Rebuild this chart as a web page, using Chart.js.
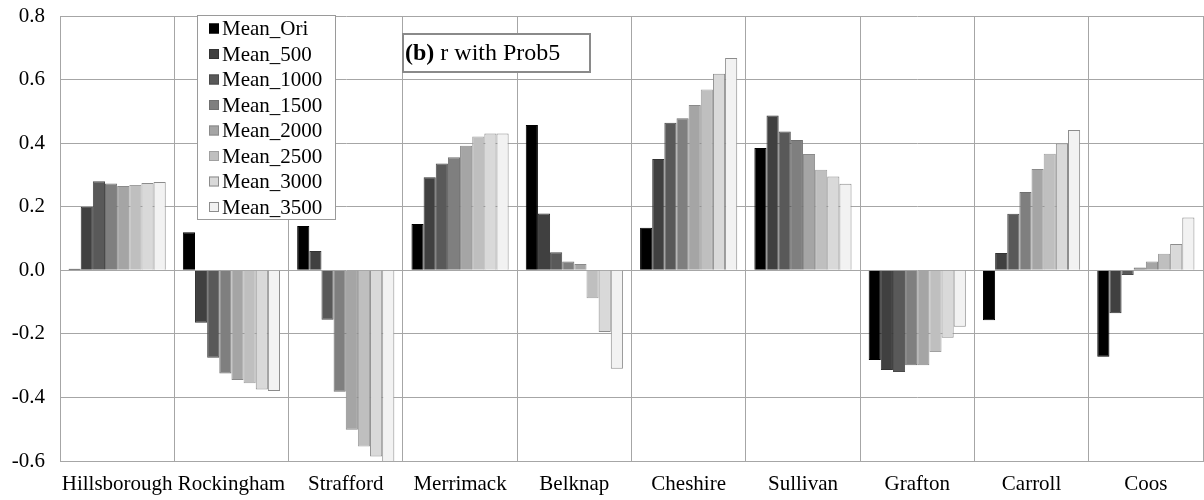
<!DOCTYPE html>
<html>
<head>
<meta charset="utf-8">
<script src="https://cdn.jsdelivr.net/npm/chart.js@4"></script>
<style>
  body { margin: 0; background: #fff; }
  #wrap { width: 1204px; height: 500px; position: relative; }
</style>
</head>
<body>
<div id="wrap"><canvas id="rChart"></canvas></div>
<script>
const counties = ["Hillsborough", "Rockingham", "Strafford", "Merrimack", "Belknap",
                  "Cheshire", "Sullivan", "Grafton", "Carroll", "Coos"];
const seriesNames = ["Mean_Ori", "Mean_500", "Mean_1000", "Mean_1500",
                     "Mean_2000", "Mean_2500", "Mean_3000", "Mean_3500"];

const meanOri  = [0.005,  0.12,  0.139, 0.146,  0.457, 0.134, 0.385, -0.282, -0.157, -0.272];
const mean500  = [0.200, -0.165, 0.061, 0.293,  0.179, 0.350, 0.487, -0.314,  0.054, -0.135];
const mean1000 = [0.280, -0.275, -0.156, 0.336, 0.057, 0.464, 0.437, -0.320,  0.178, -0.015];
const mean1500 = [0.273, -0.325, -0.382, 0.356, 0.028, 0.478, 0.410, -0.299,  0.246,  0.009];
const mean2000 = [0.265, -0.345, -0.502, 0.392, 0.020, 0.520, 0.366, -0.299,  0.319,  0.028];
const mean2500 = [0.268, -0.355, -0.554, 0.421, -0.088, 0.569, 0.316, -0.257, 0.367,  0.052];
const mean3000 = [0.275, -0.375, -0.586, 0.430, -0.194, 0.618, 0.295, -0.212, 0.399,  0.083];
const mean3500 = [0.278, -0.380, -0.620, 0.430, -0.310, 0.668, 0.272, -0.178, 0.441,  0.166];

const yTicks = [-0.6, -0.4, -0.2, 0.0, 0.2, 0.4, 0.6, 0.8];

const allSeries = [meanOri, mean500, mean1000, mean1500, mean2000, mean2500, mean3000, mean3500];
const fills = ["#000000", "#404040", "#595959", "#7f7f7f", "#a5a5a5", "#bfbfbf", "#d9d9d9", "#f2f2f2"];
const borders = ["#000000", "#333333", "#4a4a4a", "#707070", "#8a8a8a", "#a0a0a0", "#8c8c8c", "#8c8c8c"];

const serif = "'Liberation Serif', 'Times New Roman', serif";

// legend kutusu ve başlık kutusu grafik üstüne çiziliyor
const overlay = {
    id: "overlay",
    afterDraw(chart) {
        const c = chart.ctx;
        c.save();
        // legend
        c.fillStyle = "#fff";
        c.fillRect(197, 15, 138, 204);
        c.strokeStyle = "#9a9a9a";
        c.lineWidth = 1;
        c.strokeRect(197.5, 15.5, 138, 204);
        c.font = "21px " + serif;
        c.textBaseline = "middle";
        chart.data.datasets.forEach((ds, i) => {
            const y = 28.5 + i * 25.5;
            c.fillStyle = ds.backgroundColor;
            c.fillRect(209, y - 5, 10, 10);
            c.strokeStyle = ds.borderColor;
            c.strokeRect(209.5, y - 4.5, 9, 9);
            c.fillStyle = "#000";
            c.fillText(ds.label, 222, y + 1);
        });
        // başlık kutusu
        c.fillStyle = "#fff";
        c.fillRect(402, 33, 189, 40);
        c.strokeStyle = "#8a8a8a";
        c.lineWidth = 2;
        c.strokeRect(403, 34, 187, 38);
        c.fillStyle = "#000";
        c.font = "bold 24px " + serif;
        c.fillText("(b)", 405, 54);
        const w = c.measureText("(b)").width;
        c.font = "24px " + serif;
        c.fillText(" r with Prob5", 405 + w, 54);
        c.restore();
    }
};

document.addEventListener("DOMContentLoaded", function () {
    const ctx = document.getElementById("rChart").getContext("2d");

    new Chart(ctx, {
        type: "bar",
        data: {
            labels: counties,
            datasets: allSeries.map((vals, i) => ({
                label: seriesNames[i],
                data: vals,
                backgroundColor: fills[i],
                borderColor: borders[i],
                borderWidth: 1,
                categoryPercentage: 0.85,
                barPercentage: 1.0
            }))
        },
        options: {
            responsive: true,
            maintainAspectRatio: false,
            animation: false,
            layout: { padding: { top: 16, right: 1, left: 0, bottom: 0 } },
            plugins: {
                legend: { display: false },
                tooltip: { enabled: false }
            },
            scales: {
                x: {
                    grid: { offset: true, color: "#a6a6a6", drawTicks: false },
                    border: { color: "#a6a6a6" },
                    ticks: { color: "#000", font: { family: serif, size: 21 }, padding: 11, maxRotation: 0 },
                    afterFit: (s) => { s.height = 39; s.paddingLeft = 0; s.paddingRight = 0; }
                },
                y: {
                    min: yTicks[0],
                    max: yTicks[yTicks.length - 1],
                    afterBuildTicks: (s) => { s.ticks = yTicks.map(v => ({ value: v })); },
                    grid: { color: "#a6a6a6", drawTicks: false },
                    border: { color: "#a6a6a6" },
                    ticks: {
                        color: "#000",
                        font: { family: serif, size: 21 },
                        padding: 15,
                        callback: (v) => Number(v).toFixed(1)
                    },
                    afterFit: (s) => { s.width = 60; s.paddingTop = 0; s.paddingBottom = 0; }
                }
            }
        },
        plugins: [overlay]
    });
});
</script>
</body>
</html>
